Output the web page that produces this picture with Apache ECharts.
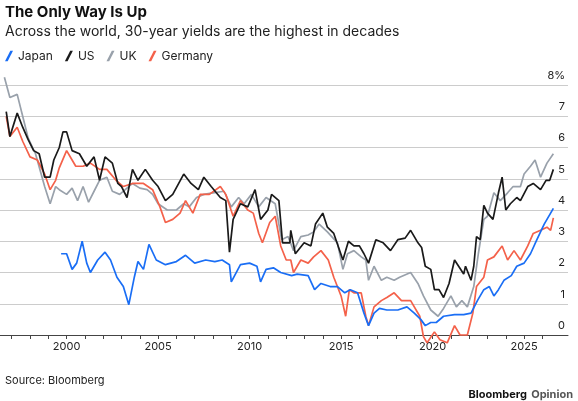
<!DOCTYPE html>
<html><head><meta charset="utf-8">
<script src="https://cdn.jsdelivr.net/npm/echarts@6/dist/echarts.min.js"></script>
<style>html,body{margin:0;padding:0;background:#fff}#c{width:578px;height:401px}</style>
</head><body><div id="c"></div>
<script>
const usYears=[1996.7,1996.9,1997.3,1997.6,1997.9,1998.2,1998.5,1998.8,1999.1,1999.3,1999.6,1999.8,2000.0,2000.3,2000.7,2001.1,2001.5,2001.8,2002.1,2002.5,2002.8,2003.0,2003.3,2003.6,2003.9,2004.3,2004.7,2005.0,2005.4,2005.8,2006.4,2006.8,2007.2,2007.5,2007.9,2008.4,2008.7,2008.9,2009.1,2009.5,2009.9,2010.3,2010.6,2011.0,2011.2,2011.6,2011.8,2012.2,2012.25,2012.5,2012.98,2013.35,2013.6,2014.0,2014.25,2014.6,2015.1,2015.4,2015.7,2016.0,2016.25,2016.5,2016.9,2017.3,2017.7,2018.1,2018.5,2018.8,2019.2,2019.4,2019.6,2019.9,2020.1,2020.35,2020.6,2020.9,2021.2,2021.7,2021.8,2022.1,2022.25,2022.4,2022.6,2022.8,2023.0,2023.3,2023.6,2023.8,2024.0,2024.25,2024.6,2024.8,2025.2,2025.5,2025.9,2026.2,2026.4,2026.6];
const usVals=[7.15,6.35,7.1,6.65,6.25,5.9,5.8,5.05,5.05,5.6,6.0,6.5,6.5,5.9,5.8,5.4,5.7,4.95,5.7,5.5,4.85,4.75,4.4,5.3,4.95,5.3,4.95,4.75,4.3,4.5,5.15,4.85,4.65,5.05,4.75,4.4,4.3,2.65,3.7,4.2,4.1,4.65,3.7,4.0,4.5,4.3,2.95,2.95,3.35,2.6,2.95,2.85,3.55,3.9,3.45,3.25,2.4,3.0,2.85,2.85,2.6,2.3,3.05,2.95,2.7,3.05,3.1,3.35,2.95,2.8,2.2,2.1,1.45,1.45,1.2,1.65,2.4,1.95,2.2,1.75,2.2,3.15,3.05,4.15,3.9,3.7,4.55,5.05,4.0,4.2,4.4,4.3,4.75,4.85,4.65,4.95,4.95,5.3];
const ukYears=[1996.6,1996.9,1997.3,1997.6,1997.9,1998.3,1998.8,1999.1,1999.4,1999.6,2000.0,2000.3,2000.6,2000.9,2001.2,2001.5,2001.8,2002.2,2002.5,2002.9,2003.3,2003.6,2004.0,2004.4,2004.7,2005.0,2005.5,2006.0,2006.4,2006.7,2007.1,2007.5,2008.0,2008.6,2009.0,2009.4,2009.7,2010.1,2010.5,2010.9,2011.4,2011.75,2012.1,2012.4,2012.8,2013.2,2013.5,2013.8,2014.25,2014.8,2015.1,2015.35,2015.7,2016.1,2016.35,2016.5,2016.8,2017.2,2017.5,2017.9,2018.2,2018.8,2019.2,2019.5,2019.9,2020.3,2020.6,2021.0,2021.3,2021.6,2021.9,2022.0,2022.25,2022.5,2022.8,2023.0,2023.35,2023.7,2024.1,2024.4,2024.8,2025.0,2025.35,2025.6,2025.9,2026.25,2026.6];
const ukVals=[8.25,7.6,7.7,7.0,6.3,5.8,4.75,4.2,4.75,4.65,4.5,4.7,4.3,4.75,4.25,4.6,4.95,5.05,4.6,4.5,4.7,4.85,4.7,4.65,4.5,4.2,4.0,4.0,4.2,4.1,4.4,4.5,4.55,4.6,4.1,4.4,4.2,4.5,4.1,4.4,4.2,3.05,3.15,2.7,3.15,3.2,3.3,3.55,3.3,2.95,2.1,2.6,2.7,2.5,2.4,1.75,2.2,1.75,1.85,1.75,1.85,2.0,1.65,1.25,0.8,0.6,0.85,1.25,0.9,1.1,0.9,0.9,1.55,2.6,3.7,3.8,4.55,4.3,4.55,4.75,4.75,5.15,5.4,5.6,5.05,5.5,5.8];
const deYears=[1996.7,1996.9,1997.3,1997.6,1998.0,1998.4,1998.8,1999.1,1999.4,1999.6,2000.0,2000.3,2000.5,2000.9,2001.3,2001.8,2002.2,2002.7,2003.1,2003.6,2004.2,2004.7,2005.1,2005.4,2005.8,2006.2,2006.5,2006.9,2007.3,2007.8,2008.4,2008.7,2009.1,2009.5,2009.9,2010.2,2010.5,2010.7,2011.1,2011.4,2011.7,2012.0,2012.25,2012.4,2012.8,2013.2,2013.5,2013.9,2014.3,2014.6,2015.0,2015.25,2015.45,2015.7,2016.1,2016.35,2016.5,2016.8,2017.2,2017.5,2017.9,2018.3,2018.8,2019.3,2019.5,2019.7,2020.1,2020.4,2020.8,2021.2,2021.5,2021.9,2022.2,2022.4,2022.8,2023.0,2023.35,2023.8,2024.1,2024.45,2024.8,2025.2,2025.5,2025.9,2026.25,2026.45,2026.6];
const deVals=[7.0,6.35,6.65,6.2,5.7,5.6,5.15,4.65,4.95,5.35,5.9,5.6,5.4,5.4,5.5,5.3,5.3,4.95,4.75,4.85,4.85,4.65,4.1,3.6,3.7,3.9,4.3,3.9,4.5,4.5,4.75,4.5,3.8,4.3,4.0,3.9,3.25,2.95,3.6,3.8,2.85,2.4,2.4,2.0,2.4,2.3,2.5,2.7,2.4,1.85,1.25,0.6,1.45,1.35,1.35,0.6,0.3,0.9,1.1,1.2,1.35,1.1,1.1,0.6,-0.05,-0.25,0.1,-0.15,-0.25,0.3,0.0,0.0,0.7,1.55,1.85,2.4,2.5,2.85,2.4,2.7,2.4,2.85,3.25,3.35,3.45,3.35,3.75];
const jpYears=[1999.7,2000.0,2000.3,2000.55,2000.85,2001.1,2001.3,2001.7,2002.1,2002.4,2002.75,2003.1,2003.4,2003.7,2003.9,2004.2,2004.5,2004.9,2005.4,2006.0,2006.5,2007.0,2007.6,2008.1,2008.5,2008.9,2009.0,2009.5,2010.0,2010.4,2010.6,2010.9,2011.3,2011.7,2012.3,2012.6,2013.2,2013.55,2013.9,2014.4,2014.8,2015.2,2015.5,2015.9,2016.25,2016.5,2016.8,2017.1,2017.5,2018.1,2018.6,2019.0,2019.35,2019.6,2019.9,2020.2,2020.6,2021.2,2021.7,2022.1,2022.45,2022.8,2023.1,2023.35,2023.6,2023.9,2024.3,2024.6,2025.0,2025.35,2025.7,2026.1,2026.45,2026.6];
const jpVals=[2.6,2.6,2.1,2.3,3.0,2.3,2.0,2.4,2.65,2.4,1.85,1.55,0.97,1.85,2.35,2.1,2.9,2.4,2.25,2.35,2.55,2.3,2.4,2.35,2.4,2.25,1.7,2.25,2.3,2.2,1.7,2.1,2.15,2.0,1.9,1.95,1.9,1.45,1.65,1.55,1.55,1.35,1.45,1.35,0.7,0.3,0.7,0.85,0.8,0.8,0.9,0.7,0.5,0.3,0.4,0.4,0.6,0.65,0.65,0.7,1.1,1.45,1.55,1.25,1.45,1.75,1.9,2.2,2.3,2.6,3.05,3.55,3.9,4.05];
const yTicks=[0,1,2,3,4,5,6,7,8];
const xLabels=[2000,2005,2010,2015,2020,2025];
const xMinor=[1997,1998,1999,2000,2001,2002,2003,2004,2005,2006,2007,2008,2009,2010,2011,2012,2013,2014,2015,2016,2017,2018,2019,2020,2021,2022,2023,2024,2025,2026];
const names=['Japan','US','UK','Germany'];
const colors=['#1a6ef5','#1a1a1a','#99a1ab','#f4614a'];
const pair=(xs,ys)=>xs.map((x,i)=>[x,ys[i]]);
const dataSets=[pair(jpYears,jpVals),pair(usYears,usVals),pair(ukYears,ukVals),pair(deYears,deVals)];
const order=[2,3,1,0];
const ch=echarts.init(document.getElementById('c'));
const icon='path://M0,10 L5,0 L7.5,0 L2.5,10 Z';
ch.setOption({
  animation:false,
  textStyle:{fontFamily:'Inter, Roboto, sans-serif'},
  title:[
    {text:'The Only Way Is Up',left:0,top:0,textStyle:{fontSize:15,fontWeight:'bold',color:'#111',fontFamily:'Inter'}},
    {text:'Across the world, 30-year yields are the highest in decades',left:0,top:20,textStyle:{fontSize:14,fontWeight:'normal',color:'#222',fontFamily:'Inter'}},
    {text:'Source: Bloomberg',left:0,top:370,textStyle:{fontSize:11,fontWeight:'normal',color:'#222',fontFamily:'Inter'}},
    {text:'{a|Bloomberg} {b|Opinion}',right:0,top:381,textStyle:{rich:{a:{fontSize:11,fontWeight:'bold',color:'#111',fontFamily:'Inter'},b:{fontSize:11,fontWeight:'bold',color:'#555',fontFamily:'Inter'}}}}
  ],
  legend:{left:0,top:45,itemWidth:8,itemHeight:11,itemGap:12,icon:icon,data:names,textStyle:{fontSize:12,color:'#222',fontFamily:'Inter'}},
  grid:{left:0,right:10,top:85,bottom:66},
  xAxis:{type:'value',min:1996.36,max:2027.4,
    axisLine:{show:true,lineStyle:{color:'#444',width:1}},
    axisTick:{show:true,customValues:xMinor,length:4,lineStyle:{color:'#444'}},
    axisLabel:{customValues:xLabels,color:'#222',fontSize:11,margin:6,formatter:v=>String(v)},
    splitLine:{show:false}},
  yAxis:{type:'value',position:'right',min:0,max:8,interval:1,
    axisLine:{show:false},axisTick:{show:false},
    axisLabel:{inside:true,verticalAlign:'bottom',margin:3,padding:[0,0,4,0],color:'#222',fontSize:11,formatter:v=>v===8?'8%':String(v)},
    splitLine:{lineStyle:{color:'#ccc',width:1}}},
  series:order.map(i=>({name:names[i],type:'line',data:dataSets[i],showSymbol:false,clip:false,
    lineStyle:{color:colors[i],width:1.7},itemStyle:{color:colors[i]}}))
});
</script></body></html>
